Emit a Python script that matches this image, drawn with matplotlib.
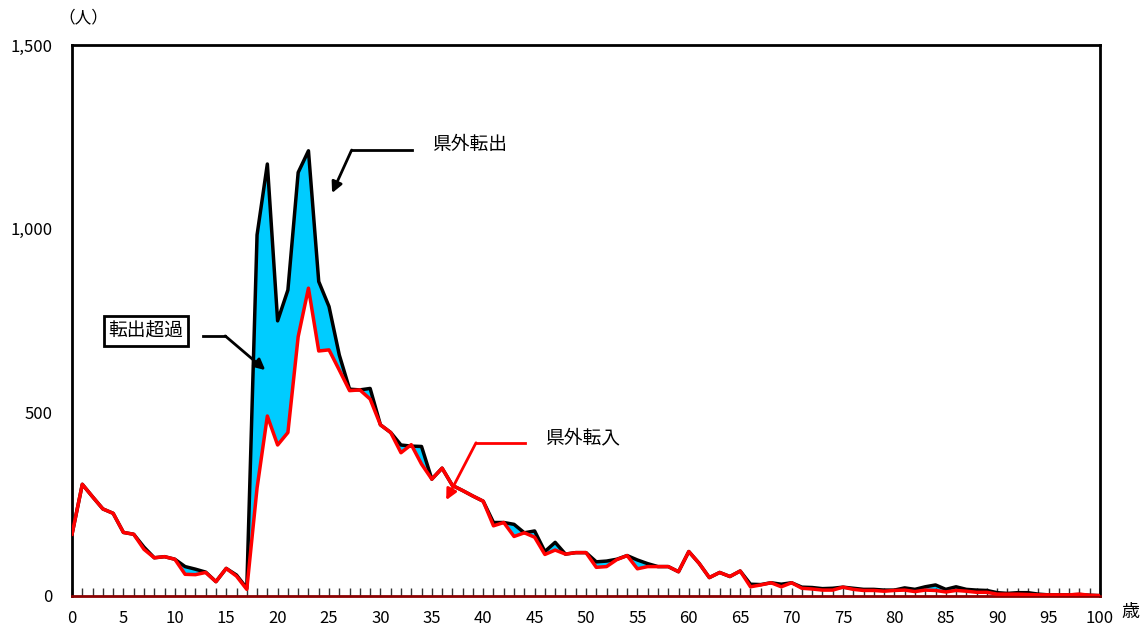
import numpy as np
import matplotlib
matplotlib.use('Agg')
import matplotlib.pyplot as plt

plt.rcParams['font.family'] = ['Noto Sans CJK JP', 'DejaVu Sans']

# ages 0..100
ages = np.arange(0, 101)

# 県外転出 (out-migration), persons by age
tenshutsu = [168, 304, 270, 237, 225, 173, 168, 133, 104, 107,
             100, 80, 73, 65, 39, 75, 57, 21, 983, 1176,
             749, 833, 1153, 1212, 856, 788, 656, 563, 561, 565,
             466, 445, 411, 408, 407, 318, 348, 301, 287, 272,
             258, 200, 200, 195, 172, 177, 121, 146, 114, 118,
             118, 93, 95, 100, 110, 98, 88, 80, 80, 66,
             121, 89, 50, 64, 53, 68, 32, 31, 36, 32,
             36, 24, 23, 20, 21, 24, 21, 18, 18, 16,
             16, 22, 18, 25, 30, 18, 25, 18, 16, 15,
             9, 7, 9, 9, 5, 3, 3, 3, 4, 2, 1]

# 県外転入 (in-migration), persons by age
tennyu = [168, 304, 270, 237, 225, 173, 168, 127, 104, 107,
          100, 59, 58, 64, 39, 75, 54, 18, 294, 490,
          411, 445, 706, 838, 667, 670, 615, 559, 561, 536,
          466, 445, 390, 412, 359, 318, 348, 301, 287, 272,
          258, 191, 200, 162, 172, 160, 113, 125, 114, 118,
          118, 78, 80, 99, 110, 74, 80, 80, 80, 66,
          121, 89, 50, 64, 53, 68, 25, 30, 36, 25,
          36, 21, 19, 16, 16, 24, 18, 15, 15, 13,
          15, 16, 12, 16, 15, 11, 15, 13, 10, 10,
          5, 5, 5, 4, 3, 3, 3, 3, 5, 2, 1]

fig = plt.figure(figsize=(11.47, 6.32), dpi=100)
ax = fig.add_axes([0.0628, 0.057, 0.8962, 0.8718])

# shaded excess of out-migration
ax.fill_between(ages, tennyu, tenshutsu, color='#00CCFF', lw=0, zorder=1)
ax.plot(ages, tenshutsu, color='black', lw=2.5, zorder=2)
ax.plot(ages, tennyu, color='#FF0000', lw=2.5, zorder=3)

ax.set_xlim(0, 100)
ax.set_ylim(0, 1500)

ax.set_yticks([0, 500, 1000, 1500])
ax.set_yticklabels(['0', '500', '1,000', '1,500'])
ax.tick_params(axis='y', length=0, pad=14, labelsize=12)

ax.set_xticks(range(0, 101))
ax.set_xticklabels([str(a) if a % 5 == 0 else '' for a in range(0, 101)])
ax.tick_params(axis='x', direction='in', length=6, width=1, color='#333333',
               pad=10, labelsize=12)

for s in ['left', 'top', 'right']:
    ax.spines[s].set_linewidth(2)
    ax.spines[s].set_color('black')
ax.spines['bottom'].set_linewidth(2)
ax.spines['bottom'].set_color('#8B0000')

# unit labels
fig.text(83 / 1147, 1 - 18 / 632, '（人）', ha='center', va='center', fontsize=12)
fig.text(1130 / 1147, 1 - 612 / 632, '歳', ha='center', va='center', fontsize=13)

# annotations
arrow_k = dict(arrowstyle='-|>', color='black', lw=2, mutation_scale=16,
               shrinkA=0, shrinkB=0)
ax.text(35.0, 1228, '県外転出', fontsize=13.5, va='center', ha='left')
ax.plot([33.1, 27.2], [1214, 1214], color='black', lw=2, clip_on=False)
ax.annotate('', xy=(25.3, 1097), xytext=(27.2, 1214), arrowprops=arrow_k)

ax.text(7.2, 721, '転出超過', fontsize=13.5, va='center', ha='center',
        bbox=dict(boxstyle='square,pad=0.25', fc='white', ec='black', lw=2))
ax.plot([12.7, 14.9], [708, 708], color='black', lw=2)
ax.annotate('', xy=(18.8, 615), xytext=(14.9, 708), arrowprops=arrow_k)

arrow_r = dict(arrowstyle='-|>', color='#FF0000', lw=2, mutation_scale=16,
               shrinkA=0, shrinkB=0)
ax.text(46.0, 430, '県外転入', fontsize=13.5, va='center', ha='left')
ax.plot([44.1, 39.3], [417, 417], color='#FF0000', lw=2)
ax.annotate('', xy=(36.4, 261), xytext=(39.3, 417), arrowprops=arrow_r)

fig.savefig('out.png', dpi=100)
